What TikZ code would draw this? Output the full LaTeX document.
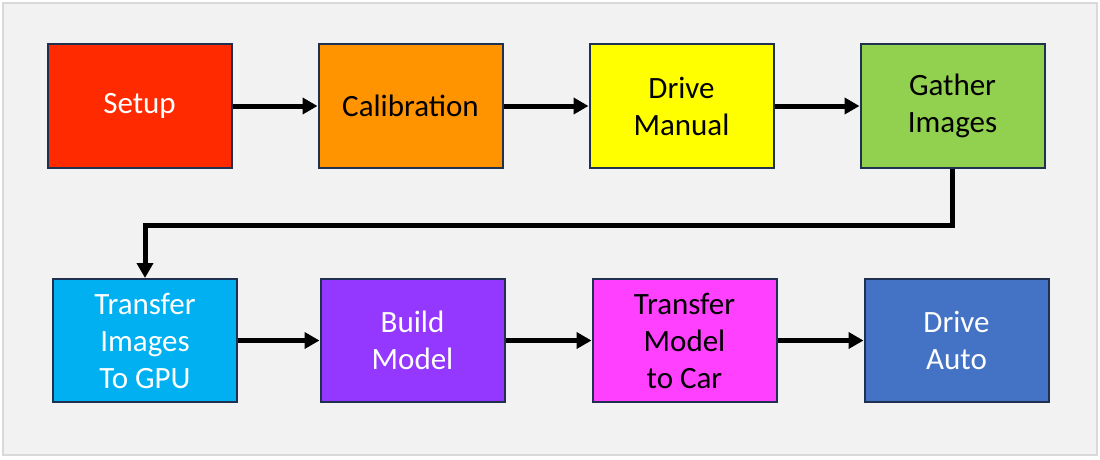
\documentclass[tikz,border=0pt]{standalone}
\usepackage{fontspec}
\setmainfont{Carlito}
\usetikzlibrary{arrows.meta}

\definecolor{frameGray}{HTML}{D9D9D9}
\definecolor{backGray}{HTML}{F2F2F2}
\definecolor{boxLine}{HTML}{1F3050}
\definecolor{setupRed}{HTML}{FF2A00}
\definecolor{calOrange}{HTML}{FF9300}
\definecolor{manYellow}{HTML}{FFFF00}
\definecolor{gatherGreen}{HTML}{92D050}
\definecolor{gpuCyan}{HTML}{00B0F0}
\definecolor{buildPurple}{HTML}{9437FF}
\definecolor{carMagenta}{HTML}{FF40FF}
\definecolor{autoBlue}{HTML}{4472C4}

\tikzset{
    stage/.style={draw=boxLine, line width=2pt, minimum width=184pt,
        minimum height=123pt, inner sep=0pt, align=center,
        font=\fontsize{31}{37}\selectfont},
    flow/.style={line width=5pt, -{Triangle[length=15pt,width=16pt]}}
}

\begin{document}
\begin{tikzpicture}[x=1pt,y=-1pt]
        % Frame
        \useasboundingbox (0,0) rectangle (1100,460);
        \path [fill=backGray] (3,3) rectangle (1097,455);
        \draw [frameGray,line width=2pt] (3,3) rectangle (1097,455);

        % Top row
        \node [stage,fill=setupRed,text=white] (setup) at (139.5,106) {Setup};
        \node [stage,fill=calOrange] (calib) at (410.5,106) {Calibration};
        \node [stage,fill=manYellow] (manual) at (681.5,106) {Drive\\Manual};
        \node [stage,fill=gatherGreen] (gather) at (952.5,106) {Gather\\Images};

        % Bottom row
        \node [stage,fill=gpuCyan,text=white] (togpu) at (145,340.5)
            {Transfer\\Images\\To GPU};
        \node [stage,fill=buildPurple,text=white] (build) at (412.5,340.5)
            {Build\\Model};
        \node [stage,fill=carMagenta] (tocar) at (684.5,340.5)
            {Transfer\\Model\\to Car};
        \node [stage,fill=autoBlue,text=white] (auto) at (956.5,340.5)
            {Drive\\Auto};

        % Connectors
        \draw [flow] (setup) -- (calib);
        \draw [flow] (calib) -- (manual);
        \draw [flow] (manual) -- (gather);
        \coordinate (bend) at (952.5,225);
        \draw [flow,line join=miter] (gather) -- (bend) -| (togpu);
        \draw [flow] (togpu) -- (build);
        \draw [flow] (build) -- (tocar);
        \draw [flow] (tocar) -- (auto);
    \end{tikzpicture}
\end{document}
